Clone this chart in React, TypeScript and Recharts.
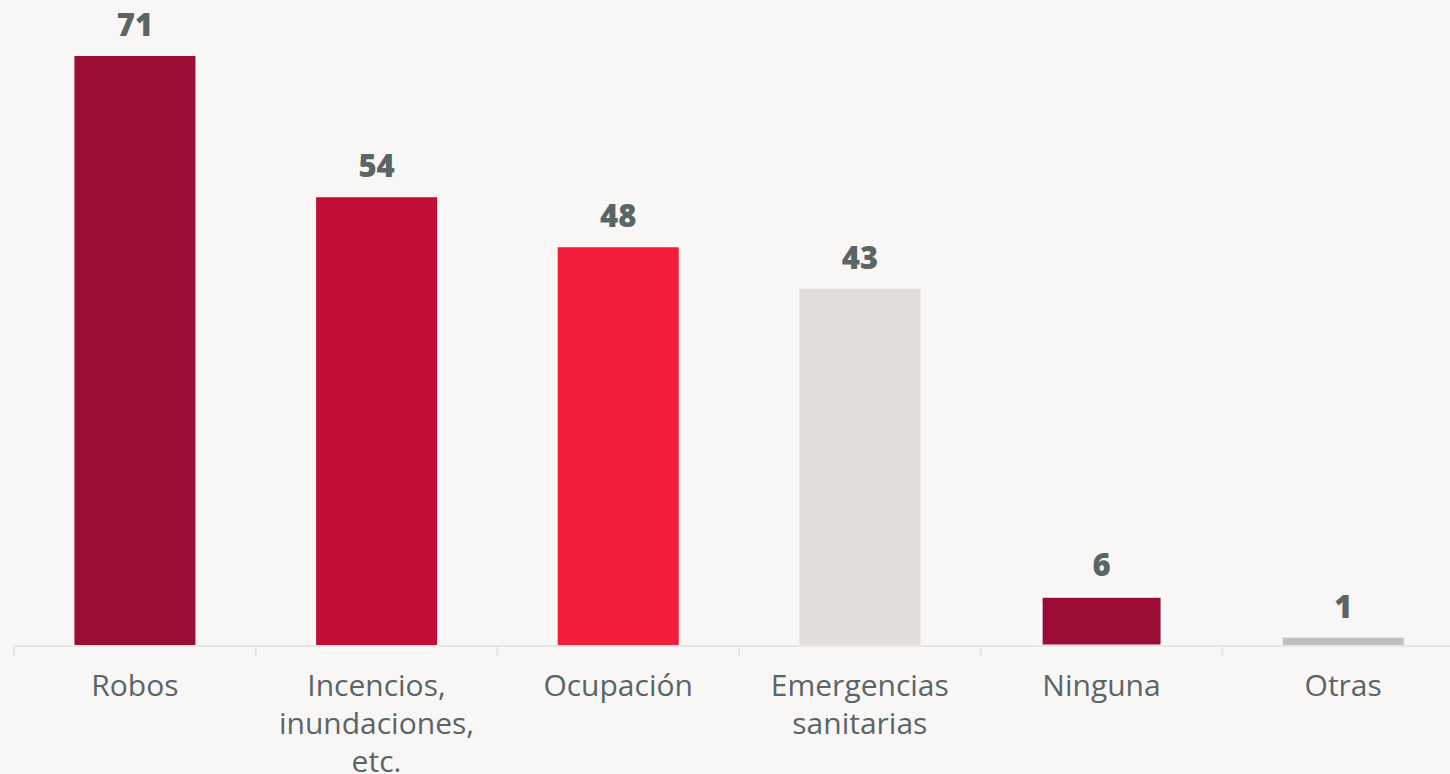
import React from "react";
import { BarChart, Bar, XAxis, YAxis, Cell, LabelList } from "recharts";

const categories = [
  "Robos",
  "Incencios,\ninundaciones,\netc.",
  "Ocupación",
  "Emergencias\nsanitarias",
  "Ninguna",
  "Otras",
];
const values = [71, 54, 48, 43, 6, 1];
const barColors = ["#9b0d35", "#c20e35", "#f41c3b", "#e0dddb", "#9b0d35", "#c0c0c0"];

const data = categories.map((name, i) => ({ name, value: values[i] }));

const TEXT_COLOR = "#5a6566";
const BG = "#f8f7f5";
const CHART_W = 1464;
const LEFT = 14;
const BAND = (CHART_W - LEFT) / categories.length;

function CategoryTick({ x, y, payload }: any) {
  const lines = String(payload.value).split("\n");
  return (
    <g transform={`translate(${x},${y})`}>
      <line x1={-BAND / 2} x2={-BAND / 2} y1={0} y2={10} stroke="#e6e6e6" strokeWidth={2} />
      <text
        textAnchor="middle"
        fill={TEXT_COLOR}
        fontSize={30}
        fontFamily="'Open Sans', sans-serif"
      >
        {lines.map((line, i) => (
          <tspan key={i} x={0} y={50 + i * 38}>
            {line}
          </tspan>
        ))}
      </text>
    </g>
  );
}

function ValueLabel({ x, y, width, value }: any) {
  return (
    <text
      x={x + width / 2}
      y={y - 20}
      textAnchor="middle"
      fill={TEXT_COLOR}
      fontSize={31}
      fontWeight={800}
      fontFamily="'Open Sans', sans-serif"
    >
      {value}
    </text>
  );
}

export default function App() {
  return (
    <div
      style={{
        position: "absolute",
        left: 0,
        top: 0,
        width: 1450,
        height: 774,
        overflow: "hidden",
        background: BG,
      }}
    >
      <BarChart
        width={CHART_W}
        height={774}
        data={data}
        margin={{ top: 56, right: 0, left: LEFT, bottom: 0 }}
        barCategoryGap="25%"
      >
        <XAxis
          dataKey="name"
          height={128}
          interval={0}
          axisLine={{ stroke: "#e6e6e6", strokeWidth: 2 }}
          tickLine={false}
          tickSize={0}
          tickMargin={0}
          tick={<CategoryTick />}
        />
        <YAxis hide domain={[0, 71]} />
        <Bar dataKey="value" isAnimationActive={false}>
          {data.map((d, i) => (
            <Cell
              key={d.name}
              fill={barColors[i]}
              stroke={d.name === "Ninguna" ? "#ffffff" : "none"}
              strokeWidth={d.name === "Ninguna" ? 3 : 0}
            />
          ))}
          <LabelList dataKey="value" content={<ValueLabel />} />
        </Bar>
      </BarChart>
    </div>
  );
}
